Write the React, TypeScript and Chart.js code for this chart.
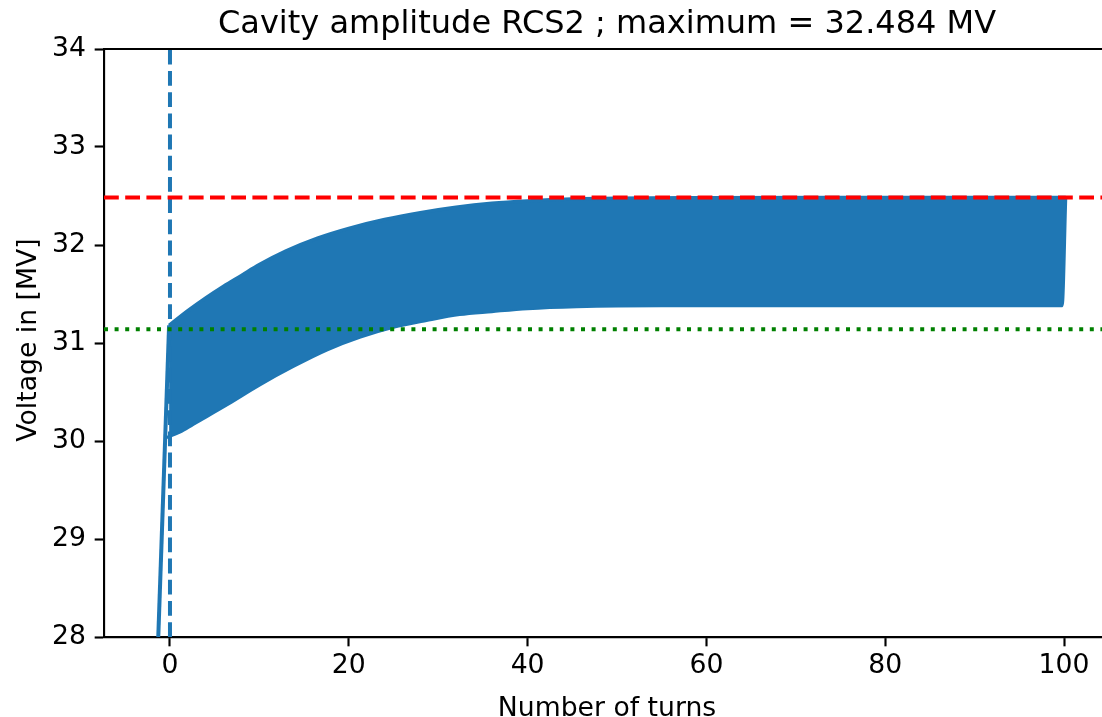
import React, { useEffect, useRef } from "react";
import { Chart, registerables } from "chart.js";

Chart.register(...registerables);

const TITLE = "Cavity amplitude RCS2 ; maximum = 32.484 MV";
const X_LABEL = "Number of turns";
const Y_LABEL = "Voltage in [MV]";

const xTicks = [0, 20, 40, 60, 80, 100];
const yTicks = [28, 29, 30, 31, 32, 33, 34];
const X_MIN = -7.38;
const X_MAX = 104.25;
const Y_MIN = 28;
const Y_MAX = 34;

const maximumVoltage = 32.484;
const referenceVoltage = 31.14;
const startTurn = 0;

// Initial ramp of the voltage before the first turn
const rampTurns = [-1.5, -0.1];
const rampVolts = [27.5, 31.18];

// Upper envelope of the oscillating voltage
const upperTurns = [-0.1, 2, 4, 6, 8, 10, 13, 16.5, 20, 24, 28, 32, 36, 40, 45, 50, 60, 80, 100.2];
const upperVolts = [31.18, 31.33, 31.46, 31.58, 31.69, 31.8, 31.94, 32.07, 32.17, 32.26, 32.33, 32.385, 32.425, 32.45, 32.47, 32.478, 32.482, 32.484, 32.484];

// Lower envelope of the oscillating voltage (ends with the final rise)
const lowerTurns = [-0.5, 1.1, 2.6, 6.4, 10, 13.8, 17.6, 21.3, 25, 28.7, 32.4, 36, 40, 45.5, 55, 70, 85, 99.8, 100.2];
const lowerVolts = [30.03, 30.09, 30.17, 30.37, 30.57, 30.76, 30.93, 31.06, 31.16, 31.23, 31.29, 31.32, 31.35, 31.37, 31.38, 31.38, 31.38, 31.38, 32.484];

const BLUE = "#1f77b4";
const FONT = '"DejaVu Sans", "Liberation Sans", sans-serif';
const TICK_FONT = 26.67;

const toPoints = (xs: number[], ys: number[]) => xs.map((x, i) => ({ x, y: ys[i] }));

const textPlugin = {
  id: "mplTexts",
  afterDraw(chart: any) {
    const { ctx, chartArea } = chart;
    ctx.save();
    ctx.strokeStyle = "#000";
    ctx.lineWidth = 2.13;
    ctx.beginPath();
    ctx.moveTo(chartArea.left - 1, chartArea.top);
    ctx.lineTo(chartArea.right, chartArea.top);
    ctx.stroke();
    ctx.fillStyle = "#000";
    ctx.textAlign = "center";
    ctx.textBaseline = "alphabetic";
    ctx.font = `32px ${FONT}`;
    ctx.fillText(TITLE, 607, 33);
    ctx.font = `${TICK_FONT}px ${FONT}`;
    ctx.fillText(X_LABEL, 607, 716);
    ctx.translate(36, 340);
    ctx.rotate(-Math.PI / 2);
    ctx.fillText(Y_LABEL, 0, 0);
    ctx.restore();
  },
};

export default function App() {
  const canvasRef = useRef<HTMLCanvasElement | null>(null);

  useEffect(() => {
    if (!canvasRef.current) return;
    const axisCommon = {
      grid: {
        display: true,
        drawOnChartArea: false,
        drawTicks: true,
        tickLength: 9.33,
        tickWidth: 2.13,
        tickColor: "#000",
      },
      border: { display: true, color: "#000", width: 2.13 },
    };
    const chart = new Chart(canvasRef.current, {
      type: "line",
      data: {
        datasets: [
          {
            label: "max",
            data: [
              { x: X_MIN, y: maximumVoltage },
              { x: X_MAX, y: maximumVoltage },
            ],
            borderColor: "#ff0000",
            borderWidth: 4,
            borderDash: [14.8, 6.4],
            pointRadius: 0,
            fill: false,
            order: 0,
            clip: 0,
          },
          {
            label: "ref",
            data: [
              { x: X_MIN, y: referenceVoltage },
              { x: X_MAX, y: referenceVoltage },
            ],
            borderColor: "#008000",
            borderWidth: 4,
            borderDash: [4, 6.6],
            pointRadius: 0,
            fill: false,
            order: 0,
            clip: 0,
          },
          {
            label: "start",
            data: [
              { x: startTurn, y: Y_MIN },
              { x: startTurn, y: Y_MAX },
            ],
            borderColor: BLUE,
            borderWidth: 4,
            borderDash: [14.8, 6.4],
            pointRadius: 0,
            fill: false,
            order: 0,
            clip: 0,
          },
          {
            label: "ramp",
            data: toPoints(rampTurns, rampVolts),
            borderColor: BLUE,
            borderWidth: 4,
            pointRadius: 0,
            fill: false,
            order: 1,
            clip: 0,
          },
          {
            label: "upper",
            data: toPoints(upperTurns, upperVolts),
            borderColor: BLUE,
            backgroundColor: BLUE,
            borderWidth: 3.5,
            pointRadius: 0,
            fill: "+1",
            cubicInterpolationMode: "monotone",
            order: 2,
            clip: 0,
          },
          {
            label: "lower",
            data: toPoints(lowerTurns, lowerVolts),
            borderColor: BLUE,
            borderWidth: 3,
            pointRadius: 0,
            fill: false,
            cubicInterpolationMode: "monotone",
            order: 2,
            clip: 0,
          },
        ],
      },
      options: {
        animation: false,
        responsive: false,
        devicePixelRatio: 1,
        layout: { padding: { top: 49, left: 0, right: 0, bottom: 0 } },
        plugins: {
          legend: { display: false },
          title: { display: false },
          tooltip: { enabled: false },
        },
        scales: {
          x: {
            type: "linear",
            position: "bottom",
            min: X_MIN,
            max: X_MAX,
            afterBuildTicks: (s: any) => {
              s.ticks = xTicks.map((v) => ({ value: v }));
            },
            afterFit: (s: any) => {
              s.height = 80;
            },
            ticks: {
              font: { family: FONT, size: TICK_FONT },
              color: "#000",
              padding: 3.7,
              maxRotation: 0,
              autoSkip: false,
            },
            ...axisCommon,
          },
          y: {
            type: "linear",
            position: "left",
            min: Y_MIN,
            max: Y_MAX,
            afterBuildTicks: (s: any) => {
              s.ticks = yTicks.map((v) => ({ value: v }));
            },
            afterFit: (s: any) => {
              s.width = 104;
            },
            ticks: {
              font: { family: FONT, size: TICK_FONT },
              color: "#000",
              padding: 8.7,
              autoSkip: false,
            },
            ...axisCommon,
          },
        },
      } as any,
      plugins: [textPlugin],
    } as any);
    return () => chart.destroy();
  }, []);

  return (
    <div style={{ position: "fixed", left: 0, top: 0, width: 1102, height: 717, background: "#fff" }}>
      <canvas ref={canvasRef} width={1102} height={717} style={{ display: "block" }} />
    </div>
  );
}
